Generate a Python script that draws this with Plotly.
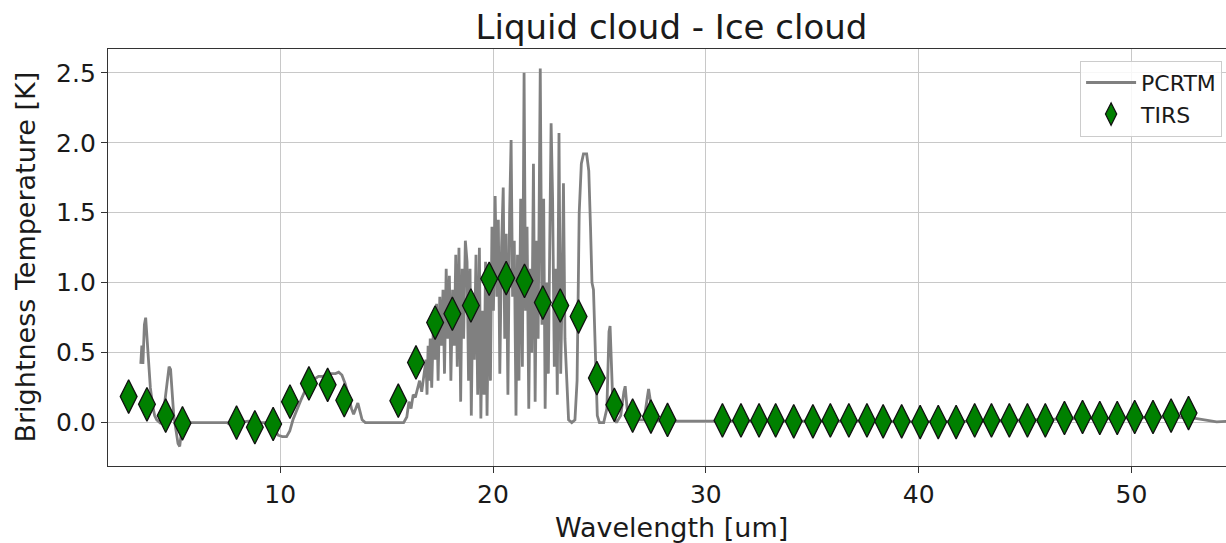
import plotly.graph_objects as go

# ---------------- data ----------------
pcrtm_wl = [
    3.45, 3.50, 3.55, 3.62, 3.68, 3.74, 3.80, 3.90, 4.00, 4.10, 4.20, 4.35, 4.50, 4.60, 4.70, 4.78,
    4.85, 4.92, 5.00, 5.10, 5.20, 5.28, 5.35, 5.45, 5.60, 6.00, 6.50, 7.00, 7.50, 7.70, 7.85, 7.95,
    8.10, 8.50, 9.00, 9.50, 9.75, 9.90, 10.10, 10.30, 10.45, 10.60, 10.80, 11.00, 11.20, 11.40, 11.60,
    11.80, 12.00, 12.20, 12.40, 12.60, 12.75, 12.90, 13.05, 13.20, 13.35, 13.45, 13.55, 13.65, 13.75,
    13.85, 14.00, 14.50, 15.00, 15.50, 15.80, 15.95, 16.05, 16.15, 16.25, 16.35, 16.45, 16.55, 16.65,
    16.75, 16.85, 16.90, 16.95, 17.00, 17.05, 17.12, 17.20, 17.28, 17.35, 17.42, 17.50, 17.58, 17.65,
    17.72, 17.80, 17.88, 17.95, 18.02, 18.10, 18.18, 18.25, 18.32, 18.40, 18.48, 18.55, 18.62, 18.70,
    18.78, 18.85, 18.92, 18.98, 19.05, 19.12, 19.20, 19.28, 19.36, 19.43, 19.50, 19.58, 19.65, 19.72,
    19.80, 19.88, 19.95, 20.02, 20.10, 20.18, 20.25, 20.32, 20.40, 20.48, 20.55, 20.62, 20.70, 20.78,
    20.85, 20.92, 21.00, 21.08, 21.15, 21.22, 21.30, 21.38, 21.46, 21.53, 21.60, 21.68, 21.75, 21.82,
    21.90, 21.98, 22.05, 22.12, 22.22, 22.30, 22.38, 22.45, 22.52, 22.60, 22.66, 22.73, 22.80, 22.88,
    22.95, 23.02, 23.10, 23.18, 23.26, 23.31, 23.38, 23.45, 23.55, 23.70, 23.85, 23.95, 24.05, 24.15,
    24.25, 24.40, 24.50, 24.58, 24.65, 24.72, 24.80, 24.90, 25.00, 25.20, 25.35, 25.45, 25.50, 25.58,
    25.65, 25.80, 26.00, 26.15, 26.21, 26.30, 26.45, 26.80, 27.10, 27.25, 27.31, 27.40, 27.50, 28.00,
    28.50, 29.00, 29.50, 30.00, 31.00, 32.00, 33.00, 34.00, 35.00, 36.00, 37.00, 38.00, 39.00, 40.00,
    41.00, 42.00, 43.00, 44.00, 45.00, 46.00, 47.00, 48.00, 49.00, 50.00, 51.00, 52.00, 53.00, 53.50,
    54.00, 54.60,
]
pcrtm_bt = [
    0.42, 0.55, 0.42, 0.70, 0.75, 0.62, 0.45, 0.25, 0.13, 0.05, 0.02, 0.00, 0.05, 0.18, 0.32, 0.40,
    0.38, 0.20, 0.05, -0.05, -0.15, -0.17, -0.08, -0.02, 0.00, 0.00, 0.00, -0.005, 0.00, -0.02, -0.06, -0.04,
    0.00, 0.01, 0.00, 0.00, -0.05, -0.09, -0.10, -0.10, -0.06, 0.02, 0.10, 0.17, 0.24, 0.29, 0.31,
    0.33, 0.33, 0.34, 0.35, 0.35, 0.36, 0.34, 0.28, 0.20, 0.10, 0.06, 0.10, 0.14, 0.08,
    0.02, 0.00, 0.00, 0.00, 0.00, 0.00, 0.04, 0.15, 0.10, 0.20, 0.18, 0.25, 0.30, 0.22,
    0.32, 0.45, 0.20, 0.55, 0.30, 0.60, 0.25, 0.70, 0.45, 0.85, 0.30, 0.90, 0.55, 0.95,
    0.35, 1.10, 0.60, 1.05, 0.30, 0.95, 0.55, 1.20, 0.40, 1.25, 0.15, 1.10, 0.60, 1.30,
    1.15, 0.30, 1.10, 0.05, 0.90, 0.45, 1.20, 0.20, 1.25, 0.03, 0.80, 0.20, 1.15, 0.05,
    1.00, 0.30, 1.40, 0.80, 1.62, 0.90, 1.45, 0.35, 1.25, 1.68, 0.60, 1.35, 0.20, 1.50,
    2.02, 0.90, 1.30, 0.05, 1.20, 0.30, 1.60, 0.40, 2.50, 0.80, 1.40, 0.10, 1.10, 0.50,
    1.85, 0.15, 1.30, 0.60, 2.53, 0.70, 1.60, 0.10, 1.00, 0.35, 1.20, 2.14, 1.60, 0.40,
    1.10, 0.20, 2.07, 0.35, 1.05, 1.71, 0.60, 0.30, 0.02, 0.00, 0.02, 0.30, 1.50, 1.85,
    1.92, 1.92, 1.80, 1.40, 1.00, 0.95, 0.50, 0.05, 0.00, 0.00, 0.10, 0.65, 0.69, 0.40,
    0.05, 0.00, 0.05, 0.22, 0.26, 0.10, 0.00, 0.02, 0.02, 0.18, 0.24, 0.15, 0.02, 0.01,
    0.01, 0.015, 0.01, 0.015, 0.015, 0.01, 0.015, 0.01, 0.01, 0.015, 0.01, 0.01, 0.005, 0.005,
    0.005, 0.01, 0.01, 0.015, 0.02, 0.025, 0.03, 0.03, 0.03, 0.035, 0.035, 0.04, 0.03, 0.02,
    0.005, 0.01,
]

tirs_wl = [
    2.88, 3.74, 4.62, 5.41, 7.95, 8.81, 9.67, 10.46, 11.35, 12.23, 13.01, 15.55, 16.38, 17.28,
    18.09, 18.96, 19.82, 20.62, 21.48, 22.34, 23.16, 24.02, 24.88, 25.70, 26.56, 27.42, 28.20,
    30.78, 31.65, 32.50, 33.28, 34.13, 35.03, 35.85, 36.72, 37.57, 38.33, 39.20, 40.07, 40.92,
    41.76, 42.63, 43.42, 44.26, 45.11, 45.95, 46.85, 47.70, 48.51, 49.33, 50.15, 51.01, 51.86, 52.68,
]
tirs_bt = [
    0.186, 0.131, 0.050, -0.005, 0.000, -0.033, -0.010, 0.150, 0.280, 0.270, 0.160, 0.157, 0.430, 0.715,
    0.778, 0.837, 1.028, 1.033, 1.013, 0.858, 0.837, 0.758, 0.318, 0.127, 0.050, 0.043, 0.019,
    0.016, 0.016, 0.016, 0.016, 0.009, 0.009, 0.016, 0.016, 0.016, 0.009, 0.009, 0.004, 0.004,
    0.004, 0.016, 0.016, 0.016, 0.016, 0.016, 0.033, 0.040, 0.033, 0.033, 0.040, 0.040, 0.050, 0.068,
]

x_ticks = [10, 20, 30, 40, 50]
y_ticks = [0.0, 0.5, 1.0, 1.5, 2.0, 2.5]
y_tick_labels = ["0.0", "0.5", "1.0", "1.5", "2.0", "2.5"]

title_text = "Liquid cloud - Ice cloud"
x_label = "Wavelength [um]"
y_label = "Brightness Temperature [K]"

# ---------------- figure ----------------
FONT = "DejaVu Sans"
TXT = "#1a1a1a"

fig = go.Figure()
fig.add_trace(go.Scatter(
    x=pcrtm_wl, y=pcrtm_bt, mode="lines", name="PCRTM",
    line=dict(color="#808080", width=2.8),
))
fig.add_trace(go.Scatter(
    x=tirs_wl, y=tirs_bt, mode="markers", name="TIRS",
    marker=dict(symbol="diamond-tall", size=24, color="#008000",
                line=dict(color="#111111", width=1.3)),
))

W, H = 1226, 543
L, R, T, B = 108, 0, 49, 77

fig.update_layout(
    width=W, height=H,
    margin=dict(l=L, r=R, t=T, b=B, autoexpand=False),
    paper_bgcolor="white", plot_bgcolor="white",
    font=dict(family=FONT, color=TXT),
    showlegend=True,
    legend=dict(
        x=0.9965, y=0.972, xanchor="right", yanchor="top",
        bgcolor="rgba(255,255,255,0.85)", bordercolor="#cccccc", borderwidth=1,
        font=dict(family=FONT, size=22, color=TXT),
        itemwidth=50,
    ),
    title=dict(
        text=title_text, font=dict(family=FONT, size=34, color=TXT),
        xref="paper", x=0.504, xanchor="center",
        yref="container", y=1 - 27 / H, yanchor="middle",
    ),
)

fig.update_xaxes(
    range=[1.91, 54.44], tickvals=x_ticks, ticktext=[str(v) for v in x_ticks],
    showgrid=True, gridcolor="#c8c8c8", gridwidth=1.3,
    showline=True, linecolor="#333333", linewidth=1.4, mirror=True,
    ticks="outside", ticklen=6, tickwidth=1.3, tickcolor="#333333",
    tickfont=dict(family=FONT, size=25, color=TXT),
    zeroline=False,
)
fig.update_yaxes(
    range=[-0.310, 2.670], tickvals=y_ticks, ticktext=y_tick_labels,
    showgrid=True, gridcolor="#c8c8c8", gridwidth=1.3,
    showline=True, linecolor="#333333", linewidth=1.4, mirror=False,
    ticks="outside", ticklen=6, tickwidth=1.3, tickcolor="#333333",
    tickfont=dict(family=FONT, size=25, color=TXT),
    zeroline=False,
)

plot_w = W - L - R
plot_h = H - T - B
fig.add_annotation(
    text=x_label, xref="paper", yref="paper",
    x=0.504, y=-(527 - (H - B)) / plot_h, xanchor="center", yanchor="middle",
    showarrow=False, font=dict(family=FONT, size=27, color=TXT),
)
fig.add_annotation(
    text=y_label, xref="paper", yref="paper", textangle=-90,
    x=-(L - 25) / plot_w, y=0.5, xanchor="center", yanchor="middle",
    showarrow=False, font=dict(family=FONT, size=27, color=TXT),
)

fig.write_html("out.html")
